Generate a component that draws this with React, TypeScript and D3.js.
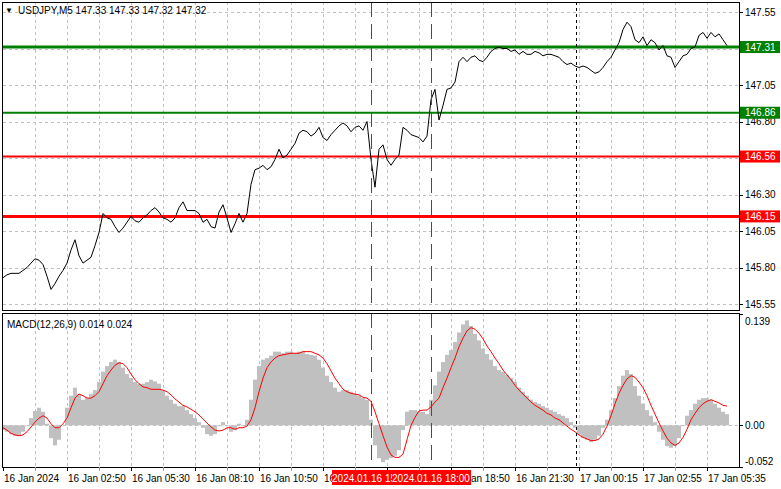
import React from "react";
import * as d3 from "d3";

// Close prices, one sample every 2 bars (M5)
const closePrices = [
  145.73, 145.75, 145.76, 145.76, 145.76, 145.78, 145.80, 145.83, 145.86, 145.85,
  145.82, 145.74, 145.65, 145.69, 145.74, 145.78, 145.83, 145.92, 145.99, 145.88,
  145.83, 145.85, 145.87, 145.95, 146.04, 146.17, 146.14, 146.13, 146.08, 146.04,
  146.07, 146.11, 146.15, 146.12, 146.11, 146.14, 146.16, 146.19, 146.21, 146.18,
  146.14, 146.13, 146.11, 146.14, 146.21, 146.25, 146.19, 146.19, 146.19, 146.17,
  146.11, 146.13, 146.08, 146.07, 146.18, 146.23, 146.14, 146.04, 146.10, 146.17,
  146.11, 146.17, 146.37, 146.47, 146.48, 146.50, 146.47, 146.49, 146.54, 146.61,
  146.55, 146.57, 146.61, 146.65, 146.72, 146.74, 146.73, 146.70, 146.72, 146.76,
  146.69, 146.67, 146.71, 146.74, 146.77, 146.79, 146.77, 146.73, 146.76, 146.77,
  146.74, 146.80, 146.54, 146.35, 146.61, 146.64, 146.54, 146.50, 146.54, 146.57,
  146.76, 146.74, 146.71, 146.70, 146.69, 146.66, 146.70, 146.95, 147.02, 146.81,
  146.91, 147.02, 147.03, 147.07, 147.21, 147.24, 147.21, 147.24, 147.25, 147.22,
  147.21, 147.24, 147.28, 147.30, 147.31, 147.30, 147.30, 147.28, 147.29, 147.26,
  147.28, 147.26, 147.26, 147.28, 147.27, 147.25, 147.26, 147.26, 147.25, 147.24,
  147.21, 147.19, 147.20, 147.18, 147.17, 147.18, 147.17, 147.15, 147.13, 147.14,
  147.17, 147.21, 147.24, 147.29, 147.34, 147.43, 147.48, 147.45, 147.36, 147.34,
  147.38, 147.32, 147.36, 147.34, 147.29, 147.32, 147.25, 147.24, 147.17, 147.21,
  147.25, 147.26, 147.30, 147.31, 147.39, 147.41, 147.37, 147.41, 147.38, 147.40,
  147.36, 147.32,
];

// MACD(12,26,9) main line (histogram), same sampling
const macdHist = [
  -0.006, -0.008, -0.011, -0.013, -0.013, -0.008, -0.001, 0.009, 0.018, 0.022,
  0.017, 0.002, -0.016, -0.025, -0.018, 0.000, 0.022, 0.037, 0.047, 0.039,
  0.032, 0.034, 0.039, 0.044, 0.054, 0.067, 0.074, 0.079, 0.082, 0.079,
  0.072, 0.064, 0.059, 0.054, 0.052, 0.052, 0.054, 0.057, 0.055, 0.052,
  0.044, 0.037, 0.032, 0.027, 0.024, 0.024, 0.019, 0.014, 0.009, 0.004,
  -0.003, -0.011, -0.013, -0.011, -0.001, 0.004, -0.001, -0.008, -0.006, 0.002,
  -0.001, 0.007, 0.032, 0.057, 0.074, 0.082, 0.084, 0.087, 0.092, 0.092,
  0.090, 0.092, 0.092, 0.090, 0.092, 0.092, 0.089, 0.088, 0.087, 0.082,
  0.072, 0.062, 0.054, 0.047, 0.042, 0.044, 0.044, 0.042, 0.039, 0.037,
  0.034, 0.032, 0.007, -0.025, -0.041, -0.046, -0.043, -0.041, -0.038, -0.031,
  -0.006, 0.017, 0.019, 0.019, 0.017, 0.017, 0.014, 0.032, 0.050, 0.067,
  0.079, 0.088, 0.094, 0.104, 0.116, 0.126, 0.131, 0.124, 0.114, 0.106,
  0.096, 0.089, 0.082, 0.074, 0.069, 0.067, 0.063, 0.059, 0.054, 0.047,
  0.042, 0.037, 0.032, 0.029, 0.027, 0.024, 0.022, 0.019, 0.017, 0.014,
  0.012, 0.009, 0.004, -0.003, -0.011, -0.016, -0.018, -0.021, -0.018, -0.013,
  -0.003, 0.007, 0.019, 0.034, 0.049, 0.062, 0.069, 0.064, 0.049, 0.037,
  0.027, 0.019, 0.012, 0.004, -0.008, -0.018, -0.026, -0.028, -0.026, -0.016,
  -0.001, 0.012, 0.019, 0.027, 0.032, 0.034, 0.034, 0.032, 0.027, 0.022,
  0.017, 0.014,
];

// MACD signal line, same sampling
const macdSignal = [
  -0.003, -0.006, -0.010, -0.012, -0.013, -0.012, -0.008, -0.002, 0.004, 0.009,
  0.012, 0.009, 0.002, -0.003, -0.003, 0.002, 0.009, 0.022, 0.034, 0.039,
  0.037, 0.034, 0.034, 0.037, 0.042, 0.052, 0.062, 0.069, 0.075, 0.078,
  0.077, 0.072, 0.064, 0.057, 0.052, 0.048, 0.047, 0.045, 0.045, 0.045,
  0.044, 0.042, 0.038, 0.033, 0.029, 0.025, 0.023, 0.020, 0.017, 0.013,
  0.008, 0.003, -0.002, -0.006, -0.007, -0.006, -0.003, -0.003, -0.005, -0.003,
  -0.003, -0.001, 0.007, 0.022, 0.042, 0.059, 0.072, 0.079, 0.084, 0.087,
  0.088, 0.089, 0.090, 0.090, 0.090, 0.092, 0.092, 0.092, 0.090, 0.088,
  0.084, 0.077, 0.068, 0.059, 0.052, 0.045, 0.042, 0.040, 0.039, 0.038,
  0.035, 0.034, 0.030, 0.017, 0.002, -0.013, -0.027, -0.037, -0.040, -0.040,
  -0.036, -0.018, 0.000, 0.010, 0.018, 0.019, 0.019, 0.023, 0.029, 0.034,
  0.047, 0.059, 0.072, 0.084, 0.098, 0.109, 0.118, 0.122, 0.120, 0.115,
  0.108, 0.099, 0.092, 0.084, 0.077, 0.069, 0.063, 0.057, 0.050, 0.044,
  0.039, 0.034, 0.029, 0.025, 0.022, 0.019, 0.015, 0.013, 0.009, 0.007,
  0.003, -0.001, -0.005, -0.008, -0.012, -0.015, -0.017, -0.019, -0.019, -0.017,
  -0.011, -0.001, 0.012, 0.027, 0.040, 0.050, 0.058, 0.062, 0.060, 0.054,
  0.047, 0.037, 0.025, 0.014, 0.003, -0.007, -0.016, -0.022, -0.025, -0.022,
  -0.015, -0.005, 0.007, 0.015, 0.022, 0.027, 0.030, 0.032, 0.030, 0.028,
  0.025, 0.024,
];

const BARS_PER_SAMPLE = 2;
const VISIBLE_BARS = 368;

const priceTicks = [147.55, 147.3, 147.05, 146.8, 146.55, 146.3, 146.05, 145.8, 145.55];
const priceDomain = [145.55, 147.55];
const macdDomain = [-0.052, 0.139];
const macdTickLabels = ["0.139", "0.00", "-0.052"];
const macdTickValues = [0.139, 0, -0.052];

const levelValues = [147.31, 146.86, 146.56, 146.15];
const levelLabels = ["147.31", "146.86", "146.56", "146.15"];
const levelColors = ["#008000", "#008000", "#ff0000", "#ff0000"];
const levelWidths = [3, 2, 2, 3];

const timeLabels = [
  "16 Jan 2024", "16 Jan 02:50", "16 Jan 05:30", "16 Jan 08:10", "16 Jan 10:50", "16 Jan 13:30",
  "16 Jan 16:10", "16 Jan 18:50", "16 Jan 21:30", "17 Jan 00:15", "17 Jan 02:55", "17 Jan 05:35",
];
const timeLabelBars = [0, 32, 64, 96, 128, 160, 192, 224, 256, 288, 320, 352];

const markerBars = [184, 214];
const markerLabels = ["2024.01.16 15:30", "2024.01.16 18:00"];
const separatorBar = 286.5;

const FONT = "'Liberation Sans', Arial, sans-serif";

export default function App() {
  const W = 781, H = 489;
  const left = 3, right = 739;
  const pTop = 2, pBot = 310, mTop = 313, mBot = 467;

  const x = d3.scaleLinear().domain([0, VISIBLE_BARS]).range([left, right]);
  const yP = d3.scaleLinear().domain(priceDomain).range([304, 12]);
  const yM = d3.scaleLinear().domain(macdDomain).range([mBot, mTop + 1]);

  const priceLine = d3.line<number>()
    .x((_, i) => x(i * BARS_PER_SAMPLE))
    .y((d) => yP(d));
  const signalLine = d3.line<number>()
    .x((_, i) => x(i * BARS_PER_SAMPLE))
    .y((d) => yM(d));

  const gridBars = d3.range(16, VISIBLE_BARS, 16);
  const stepPx = x(BARS_PER_SAMPLE) - x(0);
  const minorTicks = d3.range(0, VISIBLE_BARS, 16);

  return (
    <svg width={W} height={H} style={{ position: "absolute", left: 0, top: 0, background: "#fff" }}
      fontFamily={FONT}>
      <rect x={0} y={0} width={W} height={H} fill="#fff" />
      <defs>
        <clipPath id="pclip"><rect x={left} y={pTop + 1} width={right - left} height={pBot - pTop - 1} /></clipPath>
        <clipPath id="mclip"><rect x={left} y={mTop + 1} width={right - left} height={mBot - mTop - 1} /></clipPath>
      </defs>

      {/* vertical grid */}
      {gridBars.map((b) => (
        <g key={"vg" + b}>
          <line x1={Math.round(x(b)) + 0.5} x2={Math.round(x(b)) + 0.5} y1={pTop} y2={pBot}
            stroke="#c0c0c0" strokeDasharray="3,3" />
          <line x1={Math.round(x(b)) + 0.5} x2={Math.round(x(b)) + 0.5} y1={mTop} y2={mBot}
            stroke="#c0c0c0" strokeDasharray="3,3" />
        </g>
      ))}
      {/* horizontal grid price */}
      {priceTicks.map((t) => (
        <line key={"hg" + t} x1={left} x2={right} y1={Math.round(yP(t)) + 0.5} y2={Math.round(yP(t)) + 0.5}
          stroke="#c0c0c0" strokeDasharray="3,3" />
      ))}
      <line x1={left} x2={right} y1={Math.round(yM(0)) + 0.5} y2={Math.round(yM(0)) + 0.5}
        stroke="#c0c0c0" strokeDasharray="3,3" />

      {/* MACD histogram */}
      <g clipPath="url(#mclip)">
        {macdHist.map((v, i) => {
          const y0 = yM(0), y1 = yM(v);
          return (
            <rect key={"h" + i} x={x(i * BARS_PER_SAMPLE) - stepPx / 2} width={stepPx}
              y={Math.min(y0, y1)} height={Math.abs(y1 - y0)} fill="#c0c0c0" />
          );
        })}
        <path d={signalLine(macdSignal) || ""} fill="none" stroke="#ff0000" strokeWidth={1} />
      </g>

      {/* levels */}
      {levelValues.map((v, i) => (
        <line key={"lv" + i} x1={left} x2={right} y1={yP(v)} y2={yP(v)}
          stroke={levelColors[i]} strokeWidth={levelWidths[i]} />
      ))}

      {/* price */}
      <g clipPath="url(#pclip)">
        <path d={priceLine(closePrices) || ""} fill="none" stroke="#000" strokeWidth={1} />
      </g>

      {/* period separator */}
      <line x1={Math.round(x(separatorBar)) + 0.5} x2={Math.round(x(separatorBar)) + 0.5} y1={pTop} y2={pBot}
        stroke="#000" strokeDasharray="3,3" />
      <line x1={Math.round(x(separatorBar)) + 0.5} x2={Math.round(x(separatorBar)) + 0.5} y1={mTop} y2={mBot}
        stroke="#000" strokeDasharray="3,3" />

      {/* vertical marker lines */}
      {markerBars.map((b) => (
        <g key={"mk" + b}>
          <line x1={Math.round(x(b)) + 0.5} x2={Math.round(x(b)) + 0.5} y1={pTop} y2={pBot}
            stroke="#ff0000" strokeDasharray="15,7" />
          <line x1={Math.round(x(b)) + 0.5} x2={Math.round(x(b)) + 0.5} y1={mTop} y2={mBot}
            stroke="#ff0000" strokeDasharray="15,7" />
        </g>
      ))}

      {/* frames */}
      <rect x={2.5} y={pTop + 0.5} width={right - 2} height={pBot - pTop} fill="none" stroke="#000" />
      <rect x={2.5} y={mTop + 0.5} width={right - 2} height={mBot - mTop} fill="none" stroke="#000" />

      {/* price axis */}
      {priceTicks.map((t) => (
        <g key={"pt" + t}>
          <line x1={right + 0.5} x2={right + 4} y1={Math.round(yP(t)) + 0.5} y2={Math.round(yP(t)) + 0.5} stroke="#000" />
          <text x={right + 6} y={yP(t) + 3.5} fontSize={10} fill="#000">{t.toFixed(2)}</text>
        </g>
      ))}
      {levelValues.map((v, i) => (
        <g key={"lb" + i}>
          <rect x={right + 1} y={yP(v) - 6} width={40} height={12} fill={levelColors[i]} />
          <text x={right + 6} y={yP(v) + 3.5} fontSize={10} fill="#fff">{levelLabels[i]}</text>
        </g>
      ))}

      {/* macd axis */}
      {macdTickValues.map((t, i) => (
        <line key={"mt" + i} x1={right + 0.5} x2={right + 4} y1={Math.round(yM(t)) + 0.5} y2={Math.round(yM(t)) + 0.5} stroke="#000" />
      ))}
      <text x={right + 6} y={yM(macdTickValues[0]) + 10.5} fontSize={10}>{macdTickLabels[0]}</text>
      <text x={right + 6} y={yM(macdTickValues[1]) + 4} fontSize={10}>{macdTickLabels[1]}</text>
      <text x={right + 6} y={yM(macdTickValues[2]) - 2.5} fontSize={10}>{macdTickLabels[2]}</text>

      {/* time axis */}
      {minorTicks.map((b) => (
        <line key={"tk" + b} x1={Math.round(x(b)) + 0.5} x2={Math.round(x(b)) + 0.5} y1={mBot} y2={mBot + 4}
          stroke={b % 32 === 0 ? "#000" : "#999"} />
      ))}
      {timeLabels.map((l, i) => (
        <text key={"tl" + i} x={x(timeLabelBars[i]) + 1} y={482} fontSize={10} fill="#000">{l}</text>
      ))}
      {markerBars.map((b, i) => (
        <g key={"ml" + i}>
          <rect x={x(b) - 39} y={470} width={79} height={15} fill="#ff0000" />
          <text x={x(b)} y={482} fontSize={10} fill="#fff" textAnchor="middle">{markerLabels[i]}</text>
        </g>
      ))}

      {/* headers */}
      <text x={5} y={13} fontSize={8} fill="#000">▼</text>
      <text x={18} y={14} fontSize={10} fill="#000">USDJPY,M5  147.33 147.33 147.32 147.32</text>
      <text x={7} y={328} fontSize={10} fill="#000">MACD(12,26,9) 0.014 0.024</text>
    </svg>
  );
}
